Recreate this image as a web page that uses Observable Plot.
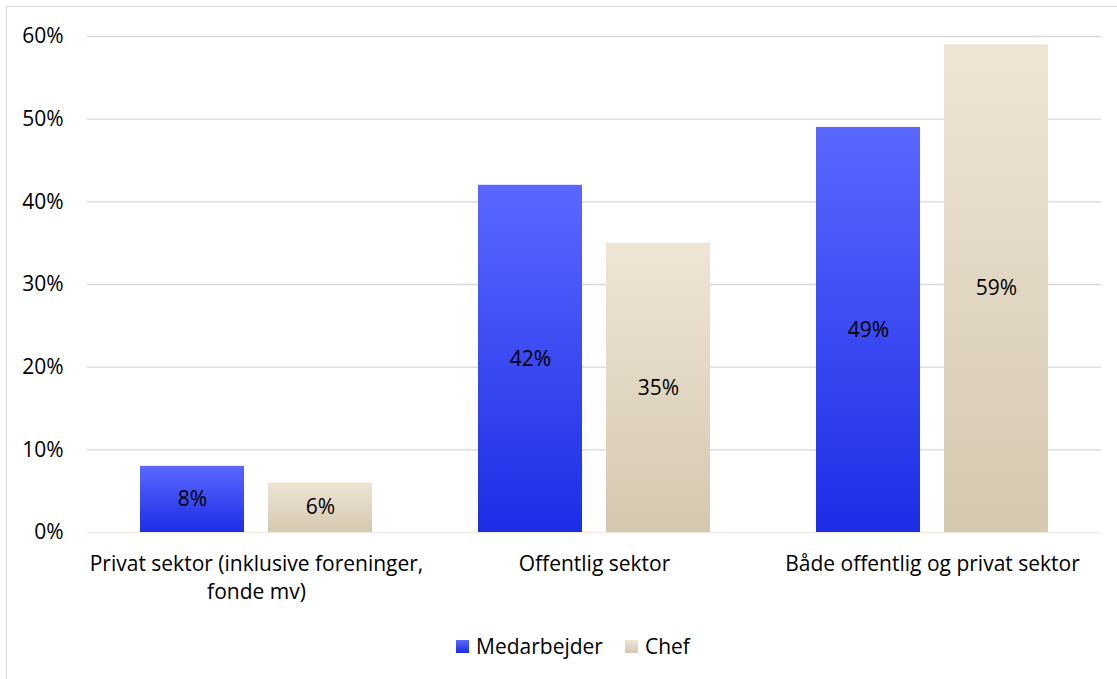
<!DOCTYPE html>
<html><head><meta charset="utf-8">
<script src="https://cdn.jsdelivr.net/npm/d3@7"></script>
<script src="https://cdn.jsdelivr.net/npm/@observablehq/plot@0.6"></script>
<style>
html,body{margin:0;padding:0;background:#fff;font-family:"Open Sans",sans-serif;}
#frame{position:absolute;left:6px;top:6px;width:1130px;height:690px;border:1px solid #d9d9d9;box-sizing:border-box;}
#chart{position:absolute;left:0;top:0;}
#legend{position:absolute;top:632px;left:456px;display:flex;align-items:center;font-size:21px;color:#000;}
.sw{width:13px;height:13px;display:inline-block;margin-right:7px;}
.item{display:flex;align-items:center;margin-right:22px;}
</style></head>
<body>
<div id="frame"></div>
<div id="chart"></div>
<div id="legend"></div>
<script>
const categories = ["Privat sektor (inklusive foreninger,\nfonde mv)", "Offentlig sektor", "Både offentlig og privat sektor"];
const series = ["Medarbejder", "Chef"];
const medarbejder = [8, 42, 49];
const chef = [6, 35, 59];
const yTicks = [0, 10, 20, 30, 40, 50, 60];

const data = categories.flatMap((c, i) => [
  {cat: c, s: series[0], v: medarbejder[i]},
  {cat: c, s: series[1], v: chef[i]}
]);

const grads = {
  gBlue: ["#5a68ff", "#1c2de6"],
  gChef: ["#eee5d5", "#d5c8b0"]
};

function defsMark() {
  const ns = "http://www.w3.org/2000/svg";
  const defs = document.createElementNS(ns, "defs");
  for (const [id, [a, b]] of Object.entries(grads)) {
    const g = document.createElementNS(ns, "linearGradient");
    g.setAttribute("id", id);
    g.setAttribute("x1", "0"); g.setAttribute("y1", "0");
    g.setAttribute("x2", "0"); g.setAttribute("y2", "1");
    const s1 = document.createElementNS(ns, "stop");
    s1.setAttribute("offset", "0"); s1.setAttribute("stop-color", a);
    const s2 = document.createElementNS(ns, "stop");
    s2.setAttribute("offset", "1"); s2.setAttribute("stop-color", b);
    g.append(s1, s2);
    defs.append(g);
  }
  return defs;
}

const chart = Plot.plot({
  width: 1117,
  height: 620,
  marginLeft: 87,
  marginRight: 16,
  marginTop: 36,
  marginBottom: 88,
  style: {fontFamily: "'Open Sans', sans-serif", fontSize: "21px", color: "#000", background: "transparent"},
  fx: {domain: categories, padding: 0, label: null, axis: null},
  x: {domain: series, paddingInner: 0.1875, paddingOuter: 0.414, axis: null},
  y: {domain: [0, 60], axis: null},
  marks: [
    defsMark,
    Plot.gridY(yTicks.filter(d => d > 0), {stroke: "#d9d9d9", strokeOpacity: 1, strokeWidth: 1.3}),
    Plot.ruleY([0], {stroke: "#f0ebe3", strokeWidth: 1.3}),
    Plot.axisY({ticks: yTicks, tickFormat: d => d + "%", tickSize: 0, tickPadding: 24, label: null, fontSize: 21}),
    Plot.axisFx({anchor: "bottom", tickSize: 0, tickPadding: 19, label: null, lineHeight: 1.33, fontSize: 21}),
    Plot.barY(data.filter(d => d.s === series[0]), {fx: "cat", x: "s", y: "v", fill: "url(#gBlue)"}),
    Plot.barY(data.filter(d => d.s === series[1]), {fx: "cat", x: "s", y: "v", fill: "url(#gChef)"}),
    Plot.text(data, {fx: "cat", x: "s", y: d => d.v / 2, text: d => d.v + "%", fontSize: 21, fill: "#000"})
  ]
});
document.getElementById("chart").append(chart);

const legend = document.getElementById("legend");
series.forEach((s, i) => {
  const g = Object.values(grads)[i];
  const item = document.createElement("div");
  item.className = "item";
  const sw = document.createElement("span");
  sw.className = "sw";
  sw.style.background = `linear-gradient(${g[0]}, ${g[1]})`;
  const t = document.createElement("span");
  t.textContent = s;
  item.append(sw, t);
  legend.append(item);
});
</script>
</body></html>
